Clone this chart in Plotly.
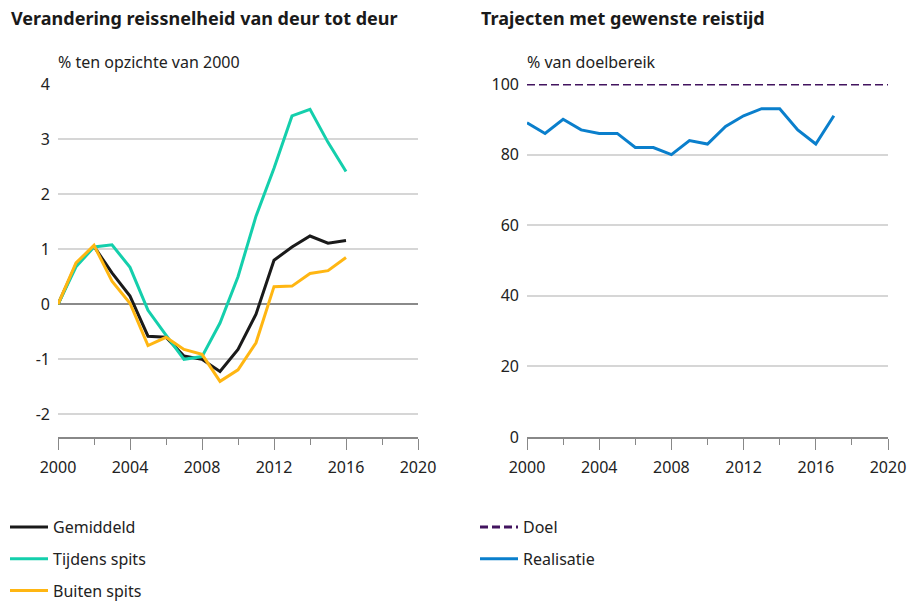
import plotly.graph_objects as go

W, H = 907, 601

years_left = list(range(2000, 2017))
gemiddeld = [0, 0.72, 1.05, 0.57, 0.15, -0.58, -0.6, -0.94, -1.0, -1.22, -0.82, -0.18, 0.8, 1.04, 1.24, 1.11, 1.16]
tijdens_spits = [0, 0.68, 1.04, 1.08, 0.67, -0.11, -0.56, -1.0, -0.95, -0.34, 0.5, 1.6, 2.47, 3.42, 3.54, 2.94, 2.41]
buiten_spits = [0, 0.75, 1.07, 0.42, 0.02, -0.75, -0.6, -0.82, -0.91, -1.4, -1.19, -0.7, 0.32, 0.33, 0.56, 0.61, 0.85]

years_right = list(range(2000, 2018))
realisatie = [89, 86, 90, 87, 86, 86, 82, 82, 80, 84, 83, 88, 91, 93, 93, 87, 83, 91]
doel_years = [2000, 2020]
doel = [100, 100]

C_BLACK = "#1a1a1a"
C_TEAL = "#14cfac"
C_ORANGE = "#ffb612"
C_PURPLE = "#42145f"
C_BLUE = "#0a7fcc"

FONT = "Noto Sans"
TXT = "#222222"

fig = go.Figure()

fig.add_trace(go.Scatter(x=years_left, y=gemiddeld, mode="lines", name="Gemiddeld",
                         line=dict(color=C_BLACK, width=3), xaxis="x", yaxis="y",
                         legend="legend", legendgroup="g1"))
fig.add_trace(go.Scatter(x=years_left, y=tijdens_spits, mode="lines", name="Tijdens spits",
                         line=dict(color=C_TEAL, width=3), xaxis="x", yaxis="y",
                         legend="legend", legendgroup="g2"))
fig.add_trace(go.Scatter(x=years_left, y=buiten_spits, mode="lines", name="Buiten spits",
                         line=dict(color=C_ORANGE, width=3), xaxis="x", yaxis="y",
                         legend="legend", legendgroup="g3"))

fig.add_trace(go.Scatter(x=doel_years, y=doel, mode="lines", name="Doel",
                         line=dict(color=C_PURPLE, width=3, dash="8px,4px"), xaxis="x2", yaxis="y2",
                         legend="legend2", legendgroup="h1"))
fig.add_trace(go.Scatter(x=years_right, y=realisatie, mode="lines", name="Realisatie",
                         line=dict(color=C_BLUE, width=3), xaxis="x2", yaxis="y2",
                         legend="legend2", legendgroup="h2"))

# plot area in page pixels
top, bottom = 84, 437
PH = bottom - top


def fx(px):
    return px / W


def fy(py):
    return (bottom - py) / PH


xaxis_common = dict(
    range=[2000, 2020], tickmode="array", tickvals=[2000, 2004, 2008, 2012, 2016, 2020],
    ticks="outside", ticklen=11, tickcolor="#888888", tickwidth=1,
    minor=dict(tickvals=[2002, 2006, 2010, 2014, 2018], ticks="outside", ticklen=6,
               tickcolor="#888888", tickwidth=1, showgrid=False),
    showline=True, linecolor="#888888", linewidth=1.5, showgrid=False, zeroline=False,
    tickfont=dict(family=FONT, size=16, color=TXT), tickangle=0, ticklabelstandoff=4,
    automargin=False, fixedrange=True,
)
yaxis_common = dict(
    showgrid=True, gridcolor="#d6d6d6", gridwidth=1.5, showline=False, ticks="",
    tickfont=dict(family=FONT, size=16, color=TXT), automargin=False, ticklabelstandoff=7,
)

legend_common = dict(xanchor="left", yanchor="top", font=dict(family=FONT, size=16, color=TXT),
                     tracegroupgap=8, bgcolor="rgba(0,0,0,0)", itemwidth=38,
                     itemclick=False, itemdoubleclick=False)

fig.update_layout(
    width=W, height=H,
    margin=dict(l=0, r=0, t=top, b=H - bottom, pad=0, autoexpand=False),
    paper_bgcolor="white", plot_bgcolor="white",
    showlegend=True,
    xaxis=dict(domain=[fx(58), fx(418)], anchor="y", **xaxis_common),
    yaxis=dict(domain=[0, 1], anchor="x", range=[-2.41, 4.0],
               tickvals=[-2, -1, 0, 1, 2, 3, 4], ticktext=["-2", "-1", "0", "1", "2", "3", "4"],
               zeroline=True, zerolinecolor="#8a8a8a", zerolinewidth=1.5, **yaxis_common),
    xaxis2=dict(domain=[fx(527), fx(888)], anchor="y2", **xaxis_common),
    yaxis2=dict(domain=[0, 1], anchor="x2", range=[0, 100],
                tickvals=[0, 20, 40, 60, 80, 100], zeroline=False, **yaxis_common),
    legend=dict(x=fx(5), y=fy(510), **legend_common),
    legend2=dict(x=fx(475), y=fy(510), **legend_common),
    hovermode=False,
    annotations=[
        dict(text="<b>Verandering reissnelheid van deur tot deur</b>", xref="paper", yref="paper",
             x=fx(9), y=fy(18), xanchor="left", yanchor="middle",
             showarrow=False, font=dict(family=FONT, size=18, color="#1a1a1a")),
        dict(text="<b>Trajecten met gewenste reistijd</b>", xref="paper", yref="paper",
             x=fx(479), y=fy(18), xanchor="left", yanchor="middle",
             showarrow=False, font=dict(family=FONT, size=18, color="#1a1a1a")),
        dict(text="% ten opzichte van 2000", xref="paper", yref="paper",
             x=fx(56), y=fy(62), xanchor="left", yanchor="middle",
             showarrow=False, font=dict(family=FONT, size=16, color=TXT)),
        dict(text="% van doelbereik", xref="paper", yref="paper",
             x=fx(525), y=fy(62), xanchor="left", yanchor="middle",
             showarrow=False, font=dict(family=FONT, size=16, color=TXT)),
    ],
)

fig.write_html("out.html", config={"displayModeBar": False},
               post_script="document.body.style.margin='0';document.body.style.overflow='hidden';")
